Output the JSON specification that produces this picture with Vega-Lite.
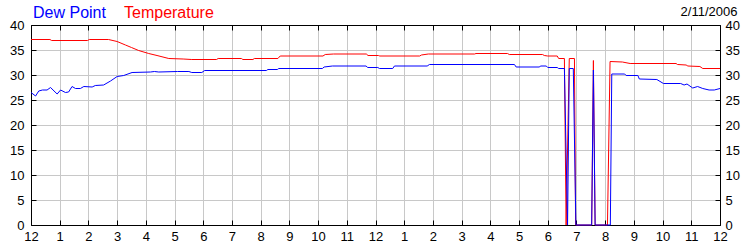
{
  "$schema": "https://vega.github.io/schema/vega-lite/v6.json",
  "width": 689,
  "height": 200,
  "autosize": {"type": "none"},
  "padding": {"left": 31, "top": 25, "right": 30, "bottom": 25},
  "background": "white",
  "title": {"text": "2/11/2006", "anchor": "end", "fontSize": 13, "fontWeight": "normal", "font": "Liberation Sans", "color": "#000000", "offset": -14, "dx": -2},
  "config": {
    "view": {"stroke": null},
    "font": "Liberation Sans",
    "axis": {"labelFont": "Liberation Sans", "labelFontSize": 13, "labelColor": "#000000", "domainColor": "#000000", "tickColor": "#000000", "gridColor": "#c8c8c8", "gridOpacity": 1, "title": null, "labelFlush": false, "labelOverlap": false}
  },
  "datasets": {
    "obs": [
      {"series": "Temperature", "hour": 0, "value": 37.1},
      {"series": "Temperature", "hour": 0.66, "value": 37.1},
      {"series": "Temperature", "hour": 0.72, "value": 36.9},
      {"series": "Temperature", "hour": 1.97, "value": 36.9},
      {"series": "Temperature", "hour": 2.03, "value": 37.1},
      {"series": "Temperature", "hour": 2.7, "value": 37.1},
      {"series": "Temperature", "hour": 3.0, "value": 36.7},
      {"series": "Temperature", "hour": 3.29, "value": 36.0},
      {"series": "Temperature", "hour": 3.5, "value": 35.5},
      {"series": "Temperature", "hour": 3.75, "value": 34.9},
      {"series": "Temperature", "hour": 4.1, "value": 34.3},
      {"series": "Temperature", "hour": 4.39, "value": 33.9},
      {"series": "Temperature", "hour": 4.8, "value": 33.3},
      {"series": "Temperature", "hour": 5.3, "value": 33.2},
      {"series": "Temperature", "hour": 5.6, "value": 33.1},
      {"series": "Temperature", "hour": 6.46, "value": 33.1},
      {"series": "Temperature", "hour": 6.52, "value": 33.3},
      {"series": "Temperature", "hour": 7.33, "value": 33.3},
      {"series": "Temperature", "hour": 7.38, "value": 33.1},
      {"series": "Temperature", "hour": 7.73, "value": 33.1},
      {"series": "Temperature", "hour": 7.78, "value": 33.3},
      {"series": "Temperature", "hour": 8.6, "value": 33.3},
      {"series": "Temperature", "hour": 8.68, "value": 33.8},
      {"series": "Temperature", "hour": 10.17, "value": 33.8},
      {"series": "Temperature", "hour": 10.25, "value": 34.1},
      {"series": "Temperature", "hour": 10.54, "value": 34.2},
      {"series": "Temperature", "hour": 11.68, "value": 34.2},
      {"series": "Temperature", "hour": 11.74, "value": 33.9},
      {"series": "Temperature", "hour": 12.1, "value": 33.9},
      {"series": "Temperature", "hour": 12.15, "value": 33.8},
      {"series": "Temperature", "hour": 13.54, "value": 33.8},
      {"series": "Temperature", "hour": 13.6, "value": 34.0},
      {"series": "Temperature", "hour": 13.84, "value": 34.2},
      {"series": "Temperature", "hour": 15.45, "value": 34.2},
      {"series": "Temperature", "hour": 15.5, "value": 34.3},
      {"series": "Temperature", "hour": 16.6, "value": 34.3},
      {"series": "Temperature", "hour": 16.66, "value": 34.1},
      {"series": "Temperature", "hour": 17.82, "value": 34.1},
      {"series": "Temperature", "hour": 17.88, "value": 33.9},
      {"series": "Temperature", "hour": 18.0, "value": 33.8},
      {"series": "Temperature", "hour": 18.33, "value": 33.8},
      {"series": "Temperature", "hour": 18.38, "value": 33.3},
      {"series": "Temperature", "hour": 18.58, "value": 33.3},
      {"series": "Temperature", "hour": 18.64, "value": 0},
      {"series": "Temperature", "hour": 18.75, "value": 33.3},
      {"series": "Temperature", "hour": 18.93, "value": 33.3},
      {"series": "Temperature", "hour": 18.97, "value": 0},
      {"series": "Temperature", "hour": 19.53, "value": 0},
      {"series": "Temperature", "hour": 19.59, "value": 32.9},
      {"series": "Temperature", "hour": 19.65, "value": 0},
      {"series": "Temperature", "hour": 20.08, "value": 0},
      {"series": "Temperature", "hour": 20.17, "value": 32.7},
      {"series": "Temperature", "hour": 20.6, "value": 32.6},
      {"series": "Temperature", "hour": 20.87, "value": 32.3},
      {"series": "Temperature", "hour": 22.47, "value": 32.3},
      {"series": "Temperature", "hour": 22.52, "value": 32.1},
      {"series": "Temperature", "hour": 22.82, "value": 32.0},
      {"series": "Temperature", "hour": 22.88, "value": 31.8},
      {"series": "Temperature", "hour": 23.3, "value": 31.7},
      {"series": "Temperature", "hour": 23.4, "value": 31.3},
      {"series": "Temperature", "hour": 24, "value": 31.3},
      {"series": "Dew Point", "hour": 0, "value": 26.5},
      {"series": "Dew Point", "hour": 0.16, "value": 25.8},
      {"series": "Dew Point", "hour": 0.27, "value": 26.8},
      {"series": "Dew Point", "hour": 0.4, "value": 27.0},
      {"series": "Dew Point", "hour": 0.56, "value": 27.0},
      {"series": "Dew Point", "hour": 0.68, "value": 27.5},
      {"series": "Dew Point", "hour": 0.91, "value": 26.2},
      {"series": "Dew Point", "hour": 1.03, "value": 27.0},
      {"series": "Dew Point", "hour": 1.2, "value": 26.5},
      {"series": "Dew Point", "hour": 1.31, "value": 26.6},
      {"series": "Dew Point", "hour": 1.43, "value": 27.7},
      {"series": "Dew Point", "hour": 1.55, "value": 27.3},
      {"series": "Dew Point", "hour": 1.72, "value": 27.3},
      {"series": "Dew Point", "hour": 1.84, "value": 27.7},
      {"series": "Dew Point", "hour": 2.13, "value": 27.6},
      {"series": "Dew Point", "hour": 2.24, "value": 27.9},
      {"series": "Dew Point", "hour": 2.53, "value": 28.0},
      {"series": "Dew Point", "hour": 2.77, "value": 28.8},
      {"series": "Dew Point", "hour": 3.0, "value": 29.7},
      {"series": "Dew Point", "hour": 3.23, "value": 29.9},
      {"series": "Dew Point", "hour": 3.52, "value": 30.5},
      {"series": "Dew Point", "hour": 4.16, "value": 30.6},
      {"series": "Dew Point", "hour": 4.3, "value": 30.7},
      {"series": "Dew Point", "hour": 4.45, "value": 30.6},
      {"series": "Dew Point", "hour": 5.1, "value": 30.7},
      {"series": "Dew Point", "hour": 5.5, "value": 30.7},
      {"series": "Dew Point", "hour": 5.6, "value": 30.5},
      {"series": "Dew Point", "hour": 5.95, "value": 30.5},
      {"series": "Dew Point", "hour": 6.05, "value": 30.9},
      {"series": "Dew Point", "hour": 8.2, "value": 30.9},
      {"series": "Dew Point", "hour": 8.25, "value": 31.1},
      {"series": "Dew Point", "hour": 8.58, "value": 31.1},
      {"series": "Dew Point", "hour": 8.63, "value": 31.3},
      {"series": "Dew Point", "hour": 10.15, "value": 31.3},
      {"series": "Dew Point", "hour": 10.21, "value": 31.6},
      {"series": "Dew Point", "hour": 10.5, "value": 31.8},
      {"series": "Dew Point", "hour": 11.67, "value": 31.8},
      {"series": "Dew Point", "hour": 11.73, "value": 31.5},
      {"series": "Dew Point", "hour": 12.08, "value": 31.5},
      {"series": "Dew Point", "hour": 12.14, "value": 31.3},
      {"series": "Dew Point", "hour": 12.6, "value": 31.3},
      {"series": "Dew Point", "hour": 12.66, "value": 31.8},
      {"series": "Dew Point", "hour": 13.8, "value": 31.8},
      {"series": "Dew Point", "hour": 13.88, "value": 32.1},
      {"series": "Dew Point", "hour": 16.84, "value": 32.1},
      {"series": "Dew Point", "hour": 16.9, "value": 31.6},
      {"series": "Dew Point", "hour": 17.7, "value": 31.6},
      {"series": "Dew Point", "hour": 17.76, "value": 31.8},
      {"series": "Dew Point", "hour": 17.95, "value": 31.8},
      {"series": "Dew Point", "hour": 18.0, "value": 31.5},
      {"series": "Dew Point", "hour": 18.33, "value": 31.5},
      {"series": "Dew Point", "hour": 18.38, "value": 31.3},
      {"series": "Dew Point", "hour": 18.58, "value": 31.3},
      {"series": "Dew Point", "hour": 18.69, "value": 0},
      {"series": "Dew Point", "hour": 18.75, "value": 31.3},
      {"series": "Dew Point", "hour": 18.89, "value": 31.3},
      {"series": "Dew Point", "hour": 18.98, "value": 0},
      {"series": "Dew Point", "hour": 19.53, "value": 0},
      {"series": "Dew Point", "hour": 19.59, "value": 31.0},
      {"series": "Dew Point", "hour": 19.65, "value": 0},
      {"series": "Dew Point", "hour": 20.18, "value": 0},
      {"series": "Dew Point", "hour": 20.23, "value": 30.2},
      {"series": "Dew Point", "hour": 20.68, "value": 30.2},
      {"series": "Dew Point", "hour": 20.73, "value": 29.9},
      {"series": "Dew Point", "hour": 21.14, "value": 29.9},
      {"series": "Dew Point", "hour": 21.19, "value": 29.2},
      {"series": "Dew Point", "hour": 21.8, "value": 29.1},
      {"series": "Dew Point", "hour": 22.03, "value": 28.3},
      {"series": "Dew Point", "hour": 22.63, "value": 28.3},
      {"series": "Dew Point", "hour": 22.75, "value": 28.0},
      {"series": "Dew Point", "hour": 22.85, "value": 28.2},
      {"series": "Dew Point", "hour": 23.05, "value": 27.4},
      {"series": "Dew Point", "hour": 23.22, "value": 27.7},
      {"series": "Dew Point", "hour": 23.4, "value": 27.3},
      {"series": "Dew Point", "hour": 23.62, "value": 27.0},
      {"series": "Dew Point", "hour": 23.8, "value": 27.0},
      {"series": "Dew Point", "hour": 24, "value": 27.3}
    ]
  },
  "data": {"name": "obs"},
  "layer": [
    {
      "mark": {"type": "line", "strokeWidth": 1},
      "encoding": {
        "x": {"field": "hour", "type": "quantitative", "scale": {"domain": [0, 24], "nice": false, "zero": false},
              "axis": {"orient": "bottom", "values": [0,1,2,3,4,5,6,7,8,9,10,11,12,13,14,15,16,17,18,19,20,21,22,23,24], "grid": true, "tickSize": -5, "labelPadding": 10, "labelExpr": "datum.value % 12 == 0 ? '12' : '' + (datum.value % 12)"}},
        "y": {"field": "value", "type": "quantitative", "scale": {"domain": [0, 40], "nice": false},
              "axis": {"orient": "left", "values": [0,5,10,15,20,25,30,35,40], "grid": true, "tickSize": -5, "labelPadding": 12}},
        "color": {"field": "series", "type": "nominal",
                  "scale": {"domain": ["Dew Point", "Temperature"], "range": ["#0000ff", "#ff0000"]},
                  "legend": {"orient": "none", "legendX": -14, "legendY": -20, "direction": "horizontal", "title": null,
                             "symbolSize": 0, "symbolStrokeWidth": 0, "symbolOpacity": 0, "labelOffset": 0, "columnPadding": 2,
                             "labelFontSize": 16, "labelFont": "Liberation Sans", "padding": 0, "labelLimit": 0,
                             "encode": {"labels": {"update": {"fill": {"signal": "datum.label === 'Dew Point' ? '#0000ff' : '#ff0000'"}}}}}}
      }
    },
    {
      "mark": {"type": "line", "strokeOpacity": 0},
      "encoding": {
        "x": {"field": "hour", "type": "quantitative", "scale": {"domain": [0, 24], "nice": false, "zero": false},
              "axis": {"orient": "top", "values": [0,1,2,3,4,5,6,7,8,9,10,11,12,13,14,15,16,17,18,19,20,21,22,23,24], "grid": false, "labels": false, "tickSize": -5}},
        "y": {"field": "value", "type": "quantitative", "scale": {"domain": [0, 40], "nice": false},
              "axis": {"orient": "right", "values": [0,5,10,15,20,25,30,35,40], "grid": false, "tickSize": -5, "labelPadding": 10}}
      }
    }
  ],
  "resolve": {"scale": {"x": "independent", "y": "independent"}}
}
